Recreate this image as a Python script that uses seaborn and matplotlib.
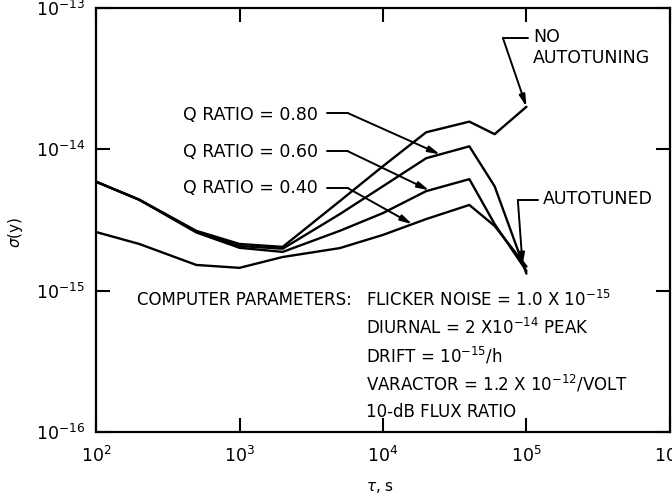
import numpy as np
import pandas as pd
import matplotlib
matplotlib.use("Agg")
import matplotlib.pyplot as plt
import seaborn as sns

# Averaging time tau (s)
tau_s = [1e2, 2e2, 5e2, 1e3, 2e3, 5e3, 1e4, 2e4, 4e4, 6e4, 1e5]

# Fractional frequency stability sigma(y) for each case
sigma_no_autotuning = [5.9e-15, 4.4e-15, 2.65e-15, 2.14e-15, 2.04e-15, 4.3e-15, 7.6e-15, 1.32e-14, 1.57e-14, 1.28e-14, 2.0e-14]
sigma_q080 = [5.9e-15, 4.4e-15, 2.62e-15, 2.07e-15, 1.98e-15, 3.48e-15, 5.48e-15, 8.65e-15, 1.05e-14, 5.48e-15, 1.32e-15]
sigma_q060 = [5.9e-15, 4.4e-15, 2.58e-15, 2.01e-15, 1.88e-15, 2.65e-15, 3.54e-15, 5.06e-15, 6.15e-15, 2.96e-15, 1.38e-15]
sigma_q040 = [2.6e-15, 2.14e-15, 1.52e-15, 1.45e-15, 1.73e-15, 2.0e-15, 2.48e-15, 3.21e-15, 4.04e-15, 2.87e-15, 1.48e-15]

series_names = ["NO AUTOTUNING", "Q RATIO = 0.80", "Q RATIO = 0.60", "Q RATIO = 0.40"]
series_values = [sigma_no_autotuning, sigma_q080, sigma_q060, sigma_q040]

x_ticks = [1e2, 1e3, 1e4, 1e5, 1e6]
y_ticks = [1e-16, 1e-15, 1e-14, 1e-13]

parameter_lines = [
    "FLICKER NOISE = 1.0 X 10$^{-15}$",
    "DIURNAL = 2 X10$^{-14}$ PEAK",
    "DRIFT = 10$^{-15}$/h",
    "VARACTOR = 1.2 X 10$^{-12}$/VOLT",
    "10-dB FLUX RATIO",
]

df = pd.DataFrame({
    "tau": np.tile(tau_s, len(series_names)),
    "sigma": np.concatenate(series_values),
    "case": np.repeat(series_names, len(tau_s)),
})

sns.set_style("ticks")
plt.rcParams["font.family"] = ["DejaVu Sans"]
plt.rcParams["mathtext.fontset"] = "dejavusans"
plt.rcParams["text.color"] = "black"
plt.rcParams["axes.labelcolor"] = "black"

fig = plt.figure(figsize=(6.72, 4.99), dpi=100)
ax = fig.add_axes([0.1429, 0.1343, 0.854, 0.8497])

sns.lineplot(data=df, x="tau", y="sigma", hue="case", units="case",
             estimator=None, sort=False, legend=False,
             palette=["black"] * len(series_names), linewidth=1.7, ax=ax)

ax.set_xscale("log")
ax.set_yscale("log")
ax.set_xlim(1e2, 1e6)
ax.set_ylim(1e-16, 1e-13)
ax.set_xticks(x_ticks)
ax.set_yticks(y_ticks)
ax.minorticks_off()
ax.tick_params(axis="both", which="major", direction="in", length=10, width=1.5,
               labelsize=12.5, pad=8, top=True, right=True, colors="black")
ax.tick_params(axis="x", pad=10)
for s in ax.spines.values():
    s.set_linewidth(1.6)
    s.set_color("black")

ax.set_xlabel(r"$\tau$, s", fontsize=11)
ax.set_ylabel(r"$\sigma$(y)", fontsize=11)
ax.xaxis.set_label_coords(0.495, -0.113)
ax.yaxis.set_label_coords(-0.124, 0.47)


def on_curve(x, ys):
    return 10 ** np.interp(np.log10(x), np.log10(tau_s), np.log10(ys))


arrow_kw = dict(arrowstyle="-|>,head_length=0.7,head_width=0.18", lw=1.4,
                color="black", shrinkA=0, shrinkB=0)
text_kw = dict(fontsize=12.5, color="black", transform=ax.transAxes)


def leader(x0, x1, y):
    ax.plot([x0, x1], [y, y], color="black", lw=1.4, transform=ax.transAxes,
            clip_on=False)


# Q ratio labels with leader arrows
q_labels = [("Q RATIO = 0.80", 0.748, 0.752, 2.5e4, sigma_q080),
            ("Q RATIO = 0.60", 0.660, 0.662, 2.1e4, sigma_q060),
            ("Q RATIO = 0.40", 0.575, 0.575, 1.6e4, sigma_q040)]
for label, ty, ly, tx, ys in q_labels:
    ax.text(0.387, ty, label, ha="right", va="center", **text_kw)
    leader(0.402, 0.439, ly)
    ax.annotate("", xy=(tx, on_curve(tx, ys)), xycoords="data",
                xytext=(0.439, ly), textcoords="axes fraction", arrowprops=arrow_kw)

# NO AUTOTUNING label
ax.text(0.762, 0.907, "NO\nAUTOTUNING", ha="left", va="center",
        linespacing=1.2, **text_kw)
leader(0.709, 0.752, 0.929)
ax.annotate("", xy=(tau_s[-1], sigma_no_autotuning[-1]), xycoords="data",
            xytext=(0.709, 0.929), textcoords="axes fraction", arrowprops=arrow_kw)

# AUTOTUNED label
ax.text(0.779, 0.550, "AUTOTUNED", ha="left", va="center", **text_kw)
leader(0.735, 0.770, 0.547)
ax.annotate("", xy=(9.4e4, on_curve(9.4e4, sigma_q060)), xycoords="data",
            xytext=(0.735, 0.547), textcoords="axes fraction", arrowprops=arrow_kw)

# Computer parameters block
ax.text(0.0714, 0.311, "COMPUTER PARAMETERS:", ha="left", va="center",
        fontsize=12, color="black", transform=ax.transAxes)
for i, line in enumerate(parameter_lines):
    ax.text(0.470, 0.311 - i * 0.066, line, ha="left", va="center",
            fontsize=12, color="black", transform=ax.transAxes)

fig.savefig("out.png", dpi=100)
